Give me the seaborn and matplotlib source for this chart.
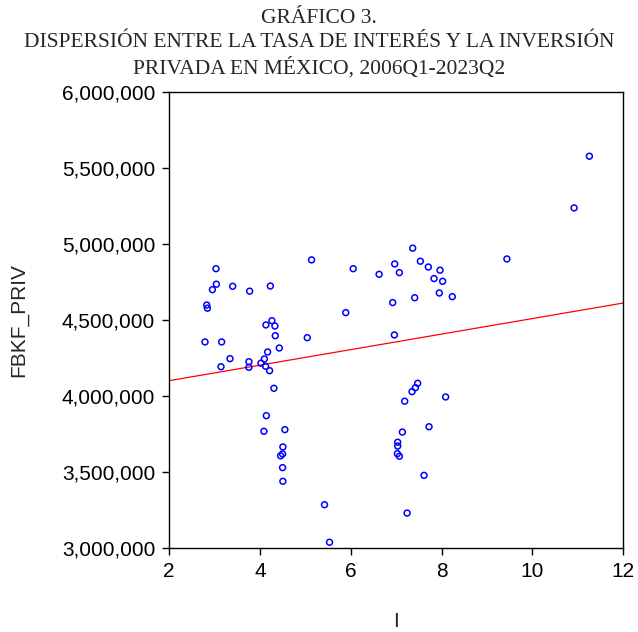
import numpy as np
import pandas as pd
import matplotlib
matplotlib.use("Agg")
import matplotlib.pyplot as plt
import seaborn as sns
from matplotlib.ticker import FuncFormatter

# Data
tasa_i = [3.033, 3.042, 2.954, 3.400, 3.774, 4.229, 2.829, 2.844, 4.264, 4.132,
          4.330, 4.338, 2.791, 3.158, 5.042, 4.426, 4.169, 3.341, 3.758, 4.097,
          4.022, 3.143, 3.758, 4.125, 4.213, 4.308, 4.141, 4.088, 4.549, 4.505,
          4.499, 4.455, 4.499, 4.505, 5.422, 5.532, 5.136, 6.053, 6.624, 7.363,
          6.967, 7.070, 7.532, 7.708, 7.965, 7.833, 8.022, 7.949, 8.235, 7.407,
          6.923, 5.890, 6.960, 7.473, 7.422, 7.349, 7.187, 8.088, 7.723, 7.136,
          7.033, 7.033, 7.026, 7.070, 7.613, 7.240, 11.253, 10.916, 9.437]
fbkf_priv = [4840000, 4738000, 4702000, 4724000, 4692000, 4726000, 4601000, 4580000, 4498000, 4470000,
             4463000, 4399000, 4358000, 4358000, 4386000, 4318000, 4292000, 4248000, 4228000, 4246000,
             4218000, 4195000, 4191000, 4198000, 4169000, 4053000, 3873000, 3770000, 3781000, 3667000,
             3621000, 3609000, 3531000, 3441000, 3287000, 3040000, 4898000, 4840000, 4803000, 4975000,
             4871000, 4814000, 4889000, 4851000, 4830000, 4775000, 4757000, 4680000, 4656000, 4649000,
             4617000, 4551000, 4404000, 4086000, 4057000, 4031000, 3968000, 3996000, 3800000, 3765000,
             3698000, 3673000, 3623000, 3606000, 3480000, 3232000, 5580000, 5240000, 4904000]

x_ticks = [2, 4, 6, 8, 10, 12]
y_ticks = [3000000, 3500000, 4000000, 4500000, 5000000, 5500000, 6000000]

df = pd.DataFrame({"I": tasa_i, "FBKF_PRIV": fbkf_priv})

sns.set_style("white")
plt.rcParams["font.family"] = ["Liberation Sans", "DejaVu Sans"]

fig = plt.figure(figsize=(6.38, 6.32), dpi=100)
ax = fig.add_axes([0.265, 0.1324, 0.712, 0.7214])
ax.set_xlim(2, 12)
ax.set_ylim(3000000, 6000000)

sns.regplot(data=df, x="I", y="FBKF_PRIV", ax=ax, scatter=False, ci=None,
            truncate=False, line_kws={"color": "#ff0000", "lw": 0.9})
sns.scatterplot(data=df, x="I", y="FBKF_PRIV", ax=ax, marker="o",
                facecolors="none", edgecolor="#0000ff", color="#0000ff",
                linewidth=1.1, s=18, zorder=3)

ax.set_xlim(2, 12)
ax.set_ylim(3000000, 6000000)
ax.set_xticks(x_ticks)
ax.set_yticks(y_ticks)
ax.yaxis.set_major_formatter(FuncFormatter(lambda v, p: f"{int(v):,}"))
ax.tick_params(axis="both", which="major", direction="out", length=5, width=1,
               color="black", labelsize=15, labelcolor="black", pad=5,
               left=True, bottom=True)
for sp in ax.spines.values():
    sp.set_visible(True)
    sp.set_color("black")
    sp.set_linewidth(1.0)

ax.set_xlabel("I", fontsize=15, labelpad=22)
ax.set_ylabel("FBKF_PRIV", fontsize=15, labelpad=24)

fig.text(0.5, 0.985, "GRÁFICO 3.\nDISPERSIÓN ENTRE LA TASA DE INTERÉS Y LA INVERSIÓN\nPRIVADA EN MÉXICO, 2006Q1-2023Q2",
         ha="center", va="top", fontsize=15.5, family="Liberation Serif",
         linespacing=1.33)

fig.savefig("out.png", dpi=100)
